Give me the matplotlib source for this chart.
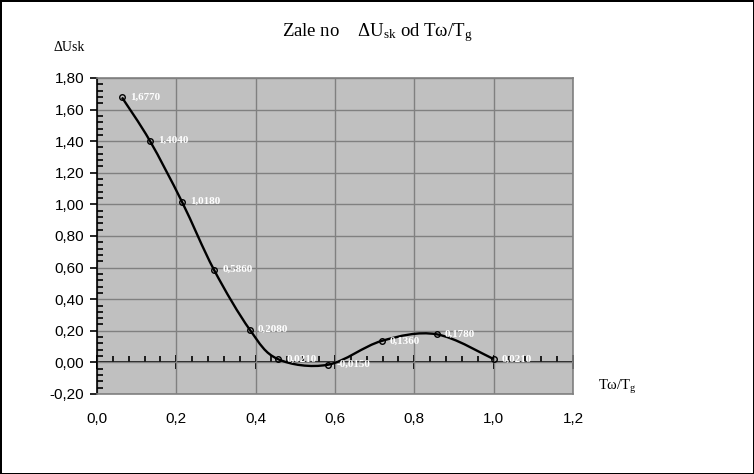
""" Zaleznosc dU_sk od Tw/Tg - Excel style chart """
import numpy as np
import matplotlib
matplotlib.use("Agg")
from matplotlib import pyplot as plt
from matplotlib.path import Path
from matplotlib.patches import PathPatch
from matplotlib.ticker import MultipleLocator, FuncFormatter

# data
t_ratio = [0.063, 0.133, 0.214, 0.295, 0.385, 0.456, 0.582, 0.718, 0.856, 1.0]
du_sk = [1.6770, 1.4040, 1.0180, 0.5860, 0.2080, 0.0210, -0.0150, 0.1360, 0.1780, 0.0210]
x_ticks = [0.0, 0.2, 0.4, 0.6, 0.8, 1.0, 1.2]
y_ticks = [-0.20, 0.00, 0.20, 0.40, 0.60, 0.80, 1.00, 1.20, 1.40, 1.60, 1.80]

plt.rcParams['mathtext.fontset'] = 'custom'
plt.rcParams['mathtext.rm'] = 'Liberation Serif'
plt.rcParams['mathtext.it'] = 'Liberation Serif:italic'

SERIF = 'Liberation Serif'
SANS = 'Liberation Sans'


def smooth_path(xs, ys, k=1.0 / 6):
    """ Excel-like smoothed line: cubic bezier through the points """
    pts = np.column_stack([xs, ys])
    n = len(pts)
    verts = [pts[0]]
    codes = [Path.MOVETO]
    for i in range(n - 1):
        p0 = pts[i - 1] if i > 0 else pts[i]
        p1 = pts[i]
        p2 = pts[i + 1]
        p3 = pts[i + 2] if i + 2 < n else pts[i + 1]
        c1 = p1 + (p2 - p0) * k
        c2 = p2 - (p3 - p1) * k
        verts += [c1, c2, p2]
        codes += [Path.CURVE4] * 3
    return Path(verts, codes)


fig = plt.figure(figsize=(7.54, 4.74), dpi=100)
fig.patch.set_facecolor('white')
fig.patch.set_edgecolor('black')
fig.patch.set_linewidth(2)

ax = fig.add_axes([0.1286, 0.1688, 0.6313, 0.6667])
ax.set_facecolor('#c0c0c0')
ax.set_xlim(0, 1.2)
ax.set_ylim(-0.2, 1.8)

for side in ['top', 'right', 'bottom']:
    ax.spines[side].set_color('#808080')
    ax.spines[side].set_linewidth(1.2)
ax.spines['left'].set_color('black')
ax.spines['left'].set_linewidth(1.2)

ax.set_xticks(x_ticks)
ax.set_yticks(y_ticks)
ax.yaxis.set_minor_locator(MultipleLocator(0.04))
ax.grid(True, which='major', color='#808080', linewidth=1.0)
ax.set_axisbelow(True)

comma = FuncFormatter(lambda v, p: ('%.2f' % v).replace('.', ','))
ax.yaxis.set_major_formatter(comma)
ax.xaxis.set_major_formatter(FuncFormatter(lambda v, p: ('%.1f' % v).replace('.', ',')))
ax.tick_params(axis='x', which='both', length=0, pad=13, labelsize=11)
ax.tick_params(axis='y', which='major', direction='out', length=5, width=1.2, pad=4, labelsize=11)
ax.tick_params(axis='y', which='minor', direction='in', length=4, width=1.2)
for lbl in ax.get_xticklabels() + ax.get_yticklabels():
    lbl.set_fontfamily(SANS)

# horizontal axis line at y = 0 with its own ticks
sec = ax.secondary_xaxis(0.1)
sec.spines['bottom'].set_color('black')
sec.spines['bottom'].set_linewidth(1.2)
sec.set_xticks(x_ticks)
sec.xaxis.set_minor_locator(MultipleLocator(0.04))
sec.tick_params(axis='x', which='major', direction='inout', length=10, width=1.4, labelbottom=False)
sec.tick_params(axis='x', which='minor', direction='in', length=4, width=1.2)

ax.add_patch(PathPatch(smooth_path(t_ratio, du_sk), facecolor='none',
                       edgecolor='black', linewidth=1.7, zorder=3))
ax.plot(t_ratio, du_sk, linestyle='none', marker='o', markersize=4,
        markerfacecolor='none', markeredgecolor='black', markeredgewidth=1.0, zorder=4)

for x, y in zip(t_ratio, du_sk):
    ax.annotate(('%.4f' % y).replace('.', ','), (x, y), xytext=(6, 0),
                textcoords='offset points', ha='left', va='center',
                color='white', fontsize=8, fontweight='bold', fontfamily=SERIF, zorder=5)

fig.text(0.5, 0.932, 'Zale no    ΔU$_{\\mathrm{sk}}$ od Tω/T$_{\\mathrm{g}}$',
         ha='center', va='center', fontsize=13.5, fontfamily=SERIF)
fig.text(0.092, 0.90, 'ΔUsk', ha='center', va='center', fontsize=10, fontfamily=SERIF)
fig.text(0.793, 0.183, 'Tω/T$_{\\mathrm{g}}$', ha='left', va='center',
         fontsize=10.5, fontfamily=SERIF)

plt.savefig('out.png', dpi=100)
